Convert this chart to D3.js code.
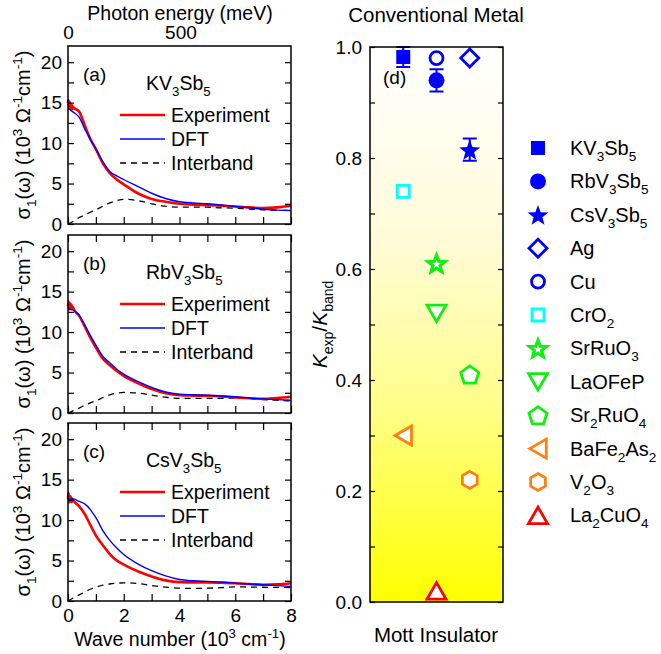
<!DOCTYPE html>
<html>
<head>
<meta charset="utf-8">
<script src="https://cdnjs.cloudflare.com/ajax/libs/d3/7.8.5/d3.min.js"></script>
<style>
body { margin: 0; background: #fff; }
text { font-family: "Liberation Sans", Arial, sans-serif; fill: #000; }
.axis text { font-size: 19px; font-family: "Liberation Sans", Arial, sans-serif; }
.axis .tick line { stroke: #000; stroke-width: 1.2px; }
.axis .domain { display: none; }
</style>
</head>
<body>
<svg width="661" height="654"></svg>
<script>
// ---- data: optical conductivity (10^3 Ohm^-1 cm^-1) vs wave number (10^3 cm^-1)
const waveGrid = [0, 0.2, 0.4, 0.6, 0.8, 1.0, 1.25, 1.5, 1.75, 2, 2.5, 3, 3.5, 4, 4.5, 5, 5.5, 6, 6.5, 7, 7.5, 8];
const noiseGrid = [0.02, 0.04, 0.06, 0.08, 0.1, 0.12, 0.14, 0.16, 0.18];

const expKV   = [14.9, 14.4, 13.9, 12.2, 10.5, 9.25, 7.5, 6.3, 5.5, 4.9, 3.8, 3.1, 2.75, 2.5, 2.4, 2.33, 2.25, 2.17, 2.05, 1.96, 2.05, 2.25];
const noiseKV = [15.3, 14.4, 15.1, 14.3, 14.9, 14.1, 14.7, 14.2, 14.5];
const dftKV   = [14.3, 13.8, 13.2, 11.75, 10.5, 9.3, 7.7, 6.5, 5.95, 5.5, 4.65, 3.8, 3.15, 2.75, 2.6, 2.5, 2.35, 2.17, 2.0, 1.83, 1.72, 1.67];
const interKV = [0, 0.35, 0.8, 1.1, 1.45, 1.75, 2.2, 2.6, 2.9, 3.05, 2.9, 2.5, 2.2, 2.08, 2.08, 2.08, 2.0, 1.96, 1.85, 1.75, 1.7, 1.67];

const expRb   = [13.2, 12.9, 12.0, 10.7, 9.3, 8.1, 6.7, 5.9, 5.2, 4.6, 3.7, 2.96, 2.45, 2.2, 2.15, 2.13, 2.05, 1.92, 1.82, 1.75, 1.85, 2.0];
const noiseRb = [13.8, 12.8, 13.6, 12.9, 13.5, 12.8, 13.3, 12.9, 13.1];
const dftRb   = [12.9, 12.7, 12.1, 10.9, 9.6, 8.4, 7.0, 6.2, 5.4, 4.8, 3.9, 3.17, 2.6, 2.33, 2.25, 2.2, 2.1, 2.0, 1.85, 1.75, 1.65, 1.58];
const interRb = [0, 0.3, 0.6, 0.95, 1.25, 1.5, 1.9, 2.25, 2.45, 2.54, 2.46, 2.2, 1.95, 1.8, 1.8, 1.8, 1.82, 1.83, 1.78, 1.67, 1.58, 1.5];

const expCs   = [12.6, 12.4, 11.7, 10.75, 9.4, 8.1, 6.9, 5.8, 5.0, 4.5, 3.67, 3.04, 2.55, 2.33, 2.3, 2.29, 2.25, 2.2, 2.1, 2.0, 2.05, 2.2];
const noiseCs = [13.4, 12.2, 13.0, 12.3, 12.9, 12.2, 12.7, 12.3, 12.5];
const dftCs   = [12.6, 12.6, 12.3, 12.0, 11.3, 10.3, 8.7, 7.5, 6.55, 5.75, 4.6, 3.75, 3.1, 2.65, 2.5, 2.42, 2.35, 2.2, 2.1, 2.0, 1.9, 1.8];
const interCs = [0, 0.4, 0.75, 1.1, 1.45, 1.7, 1.95, 2.1, 2.2, 2.25, 2.17, 1.92, 1.72, 1.58, 1.55, 1.58, 1.65, 1.75, 1.72, 1.7, 1.68, 1.67];

const sigmaTicks = [0, 2.5, 5, 7.5, 10, 12.5, 15, 17.5, 20];
const waveTicks = [0, 1, 2, 3, 4, 5, 6, 7, 8];
const energyTicks = [0, 500];

// ---- data: kinetic energy ratio K_exp / K_band
const materials = ["KV_3Sb_5", "RbV_3Sb_5", "CsV_3Sb_5", "Ag", "Cu", "CrO_2", "SrRuO_3", "LaOFeP", "Sr_2RuO_4", "BaFe_2As_2", "V_2O_3", "La_2CuO_4"];
const kRatio   = [0.982, 0.94, 0.815, 0.98, 0.98, 0.74, 0.61, 0.52, 0.41, 0.30, 0.22, 0.02];
const kError   = [0.018, 0.02, 0.02, 0, 0, 0, 0, 0, 0, 0, 0, 0];
const column   = [1, 2, 3, 3, 2, 1, 2, 2, 3, 1, 3, 2];
const ratioTicks = [0, 0.1, 0.2, 0.3, 0.4, 0.5, 0.6, 0.7, 0.8, 0.9, 1.0];

const blue = "#0000ff", cyan = "#00ffff", green = "#11ee11", orange = "#ff8010", red = "#ff0000";
const markerStyle = [
  {shape: "square", color: blue, filled: true},
  {shape: "circle", color: blue, filled: true},
  {shape: "star", color: blue, filled: true},
  {shape: "diamond", color: blue},
  {shape: "circle", color: blue},
  {shape: "square", color: cyan},
  {shape: "star", color: green},
  {shape: "triDown", color: green},
  {shape: "pentagon", color: green},
  {shape: "triLeft", color: orange},
  {shape: "hexagon", color: orange},
  {shape: "triUp", color: red}
];

const svg = d3.select("svg");

// text with _sub and ^sup parts
function rich(text, s, fs) {
  const re = /([_^])\{([^}]*)\}|([_^])(.)|([^_^]+)/g;
  let m, shift = 0;
  while ((m = re.exec(s))) {
    const mode = m[1] || m[3];
    const str = m[2] || m[4] || m[5];
    const target = mode === "_" ? 0.3 * fs : mode === "^" ? -0.42 * fs : 0;
    text.append("tspan")
      .attr("dy", target - shift)
      .style("font-size", mode ? (fs * 0.68) + "px" : null)
      .text(str);
    shift = target;
  }
  return text;
}

// ---- left panels
const x = d3.scaleLinear().domain([0, 8]).range([68, 291]);
const xMeV = d3.scaleLinear().domain([0, 8000 / 8.0655]).range([68, 291]);
const panelTops = [46, 235, 423], panelH = 178;

const panels = [
  {tag: "(a)", name: "KV_3Sb_5", exp: expKV, noise: noiseKV, dft: dftKV, inter: interKV},
  {tag: "(b)", name: "RbV_3Sb_5", exp: expRb, noise: noiseRb, dft: dftRb, inter: interRb},
  {tag: "(c)", name: "CsV_3Sb_5", exp: expCs, noise: noiseCs, dft: dftCs, inter: interCs}
];

panels.forEach(function(p, i) {
  const top = panelTops[i];
  const y = d3.scaleLinear().domain([0, 22]).range([top + panelH, top]);
  const g = svg.append("g");

  const line = d3.line()
    .curve(d3.curveMonotoneX)
    .x(d => x(d[0]))
    .y(d => y(d[1]));

  const expPts = [[0, p.exp[0]]]
    .concat(noiseGrid.map((w, k) => [w, p.noise[k]]))
    .concat(waveGrid.map((w, k) => [w, p.exp[k]]).filter(d => d[0] >= 0.2));
  const dftPts = waveGrid.map((w, k) => [w, p.dft[k]]);
  const interPts = waveGrid.map((w, k) => [w, p.inter[k]]);

  g.append("path").attr("d", line(interPts))
    .attr("fill", "none").attr("stroke", "#000").attr("stroke-width", 1.3)
    .attr("stroke-dasharray", "6,5");
  g.append("path").attr("d", line(expPts))
    .attr("fill", "none").attr("stroke", red).attr("stroke-width", 2.6);
  g.append("path").attr("d", line(dftPts))
    .attr("fill", "none").attr("stroke", blue).attr("stroke-width", 1.4);

  // axes
  g.append("g").attr("class", "axis")
    .attr("transform", "translate(68,0)")
    .call(d3.axisLeft(y).tickValues(sigmaTicks).tickSizeInner(-6).tickSizeOuter(0).tickPadding(6)
      .tickFormat(v => v % 5 === 0 ? v : ""));
  g.append("g").attr("class", "axis")
    .attr("transform", "translate(291,0)")
    .call(d3.axisRight(y).tickValues(sigmaTicks).tickSizeInner(-6).tickSizeOuter(0).tickFormat(""));
  g.append("g").attr("class", "axis")
    .attr("transform", "translate(0," + (top + panelH) + ")")
    .call(d3.axisBottom(x).tickValues(waveTicks).tickSizeInner(-7).tickSizeOuter(0).tickPadding(8)
      .tickFormat(v => (i === 2 && v % 2 === 0) ? v : ""));
  if (i === 0) {
    g.append("g").attr("class", "axis")
      .attr("transform", "translate(0," + top + ")")
      .call(d3.axisTop(xMeV).tickValues(energyTicks).tickSize(0).tickPadding(7));
  } else {
    g.append("g").attr("class", "axis")
      .attr("transform", "translate(0," + top + ")")
      .call(d3.axisTop(x).tickValues(waveTicks).tickSizeInner(-7).tickSizeOuter(0).tickFormat(""));
  }

  g.append("rect")
    .attr("x", 68).attr("y", top).attr("width", 291 - 68).attr("height", panelH)
    .attr("fill", "none").attr("stroke", "#000").attr("stroke-width", 1.5);

  // labels and legend
  g.append("text").attr("x", 83).attr("y", top + 35).style("font-size", "19px").text(p.tag);
  rich(g.append("text").attr("x", 146).attr("y", top + 44).style("font-size", "19.5px"), p.name, 19.5);

  const entries = [["Experiment", red, 2.6, null], ["DFT", blue, 1.6, null], ["Interband", "#000", 1.3, "6,5"]];
  entries.forEach(function(e, k) {
    const ly = top + 69 + k * 24;
    g.append("line").attr("x1", 120).attr("x2", 165).attr("y1", ly).attr("y2", ly)
      .attr("stroke", e[1]).attr("stroke-width", e[2]).attr("stroke-dasharray", e[3]);
    g.append("text").attr("x", 171).attr("y", ly + 7).style("font-size", "19.5px").text(e[0]);
  });

  rich(svg.append("text")
    .attr("transform", "translate(30," + (top + panelH / 2) + ") rotate(-90)")
    .attr("text-anchor", "middle").style("font-size", "20px"),
    "σ_1(ω) (10^3 Ω^{-1}cm^{-1})", 20);
});

svg.append("text").attr("x", 180).attr("y", 20).attr("text-anchor", "middle")
  .style("font-size", "19.5px").text("Photon energy (meV)");
rich(svg.append("text").attr("x", 180).attr("y", 646).attr("text-anchor", "middle")
  .style("font-size", "19.5px"), "Wave number (10^3 cm^{-1})", 19.5);

// ---- right panel
const xr = d3.scaleLinear().domain([0, 4]).range([370, 503]);
const yr = d3.scaleLinear().domain([0, 1]).range([602, 47]);

const grad = svg.append("defs").append("linearGradient")
  .attr("id", "bg").attr("x1", 0).attr("y1", 0).attr("x2", 0).attr("y2", 1);
grad.append("stop").attr("offset", "0%").attr("stop-color", "#ffffff");
grad.append("stop").attr("offset", "35%").attr("stop-color", "#fffbd8");
grad.append("stop").attr("offset", "65%").attr("stop-color", "#ffff88");
grad.append("stop").attr("offset", "100%").attr("stop-color", "#ffff00");

svg.append("rect").attr("x", 370).attr("y", 47).attr("width", 133).attr("height", 555)
  .attr("fill", "url(#bg)");

svg.append("g").attr("class", "axis")
  .attr("transform", "translate(370,0)")
  .call(d3.axisLeft(yr).tickValues(ratioTicks).tickSizeInner(-5).tickSizeOuter(0).tickPadding(8)
    .tickFormat(v => Math.round(v * 10) % 2 === 0 ? d3.format(".1f")(v) : ""));
svg.append("g").attr("class", "axis")
  .attr("transform", "translate(503,0)")
  .call(d3.axisRight(yr).tickValues(ratioTicks).tickSizeInner(-5).tickSizeOuter(0).tickFormat(""));

function poly(n, r, start) {
  const pts = d3.range(n).map(k => {
    const a = start + k * 2 * Math.PI / n;
    return [r * Math.cos(a), r * Math.sin(a)];
  });
  const ys = pts.map(d => d[1]), xs = pts.map(d => d[0]);
  const dy = -(d3.min(ys) + d3.max(ys)) / 2, dx = -(d3.min(xs) + d3.max(xs)) / 2;
  return "M" + pts.map(d => (d[0] + dx).toFixed(2) + "," + (d[1] + dy).toFixed(2)).join("L") + "Z";
}
function starPath(R, r) {
  const pts = d3.range(10).map(k => {
    const a = -Math.PI / 2 + k * Math.PI / 5, rr = k % 2 ? r : R;
    return [rr * Math.cos(a), rr * Math.sin(a) + R * 0.1];
  });
  return "M" + pts.map(d => d[0].toFixed(2) + "," + d[1].toFixed(2)).join("L") + "Z";
}
function shapePath(st) {
  const f = st.filled;
  switch (st.shape) {
    case "square": return f ? "M-7,-7H7V7H-7Z" : "M-6,-6H6V6H-6Z";
    case "circle": { const r = f ? 8 : 6.5; return "M" + r + ",0A" + r + "," + r + " 0 1,1 " + (-r) + ",0A" + r + "," + r + " 0 1,1 " + r + ",0Z"; }
    case "star": return f ? starPath(11, 4.6) : starPath(9, 3.8);
    case "diamond": return "M0,-9L9,0L0,9L-9,0Z";
    case "triUp": return poly(3, 11, -Math.PI / 2);
    case "triDown": return poly(3, 11, Math.PI / 2);
    case "triLeft": return poly(3, 11, Math.PI);
    case "pentagon": return poly(5, 9.5, -Math.PI / 2);
    case "hexagon": return poly(6, 8.5, -Math.PI / 2);
  }
}
function drawMarker(sel, st, px, py) {
  sel.append("path")
    .attr("d", shapePath(st))
    .attr("transform", "translate(" + px + "," + py + ")")
    .attr("fill", st.filled ? st.color : "#fff")
    .attr("stroke", st.color)
    .attr("stroke-width", st.filled ? 0 : (st.shape === "star" ? 3.2 : 2.8))
    .attr("stroke-linejoin", "miter");
}

const pts = svg.append("g");
materials.forEach(function(m, k) {
  const cx = xr(column[k]), cy = yr(kRatio[k]);
  if (kError[k] > 0) {
    const e = kError[k];
    pts.append("path")
      .attr("d", "M" + (cx - 7) + "," + yr(kRatio[k] + e) + "H" + (cx + 7) +
        "M" + cx + "," + yr(kRatio[k] + e) + "V" + yr(kRatio[k] - e) +
        "M" + (cx - 7) + "," + yr(kRatio[k] - e) + "H" + (cx + 7))
      .attr("stroke", markerStyle[k].color).attr("stroke-width", 2).attr("fill", "none");
  }
  drawMarker(pts, markerStyle[k], cx, cy);
});

svg.append("rect").attr("x", 370).attr("y", 47).attr("width", 133).attr("height", 555)
  .attr("fill", "none").attr("stroke", "#000").attr("stroke-width", 1.5);

svg.append("text").attr("x", 383).attr("y", 84).style("font-size", "19px").text("(d)");
svg.append("text").attr("x", 436).attr("y", 22).attr("text-anchor", "middle")
  .style("font-size", "20.5px").text("Conventional Metal");
svg.append("text").attr("x", 436).attr("y", 642).attr("text-anchor", "middle")
  .style("font-size", "20.5px").text("Mott Insulator");

const kl = svg.append("text")
  .attr("transform", "translate(327,324.5) rotate(-90)")
  .attr("text-anchor", "middle").style("font-size", "21px");
kl.append("tspan").style("font-style", "italic").text("K");
kl.append("tspan").attr("dy", 6).style("font-size", "14px").text("exp");
kl.append("tspan").attr("dy", -6).text("/");
kl.append("tspan").style("font-style", "italic").text("K");
kl.append("tspan").attr("dy", 6).style("font-size", "14px").text("band");

// legend
const leg = svg.append("g");
materials.forEach(function(m, k) {
  const ly = 148 + k * 33.4;
  drawMarker(leg, markerStyle[k], 538, ly);
  rich(leg.append("text").attr("x", 570).attr("y", ly + 7).style("font-size", "20px"), m, 20);
});
</script>
</body>
</html>
